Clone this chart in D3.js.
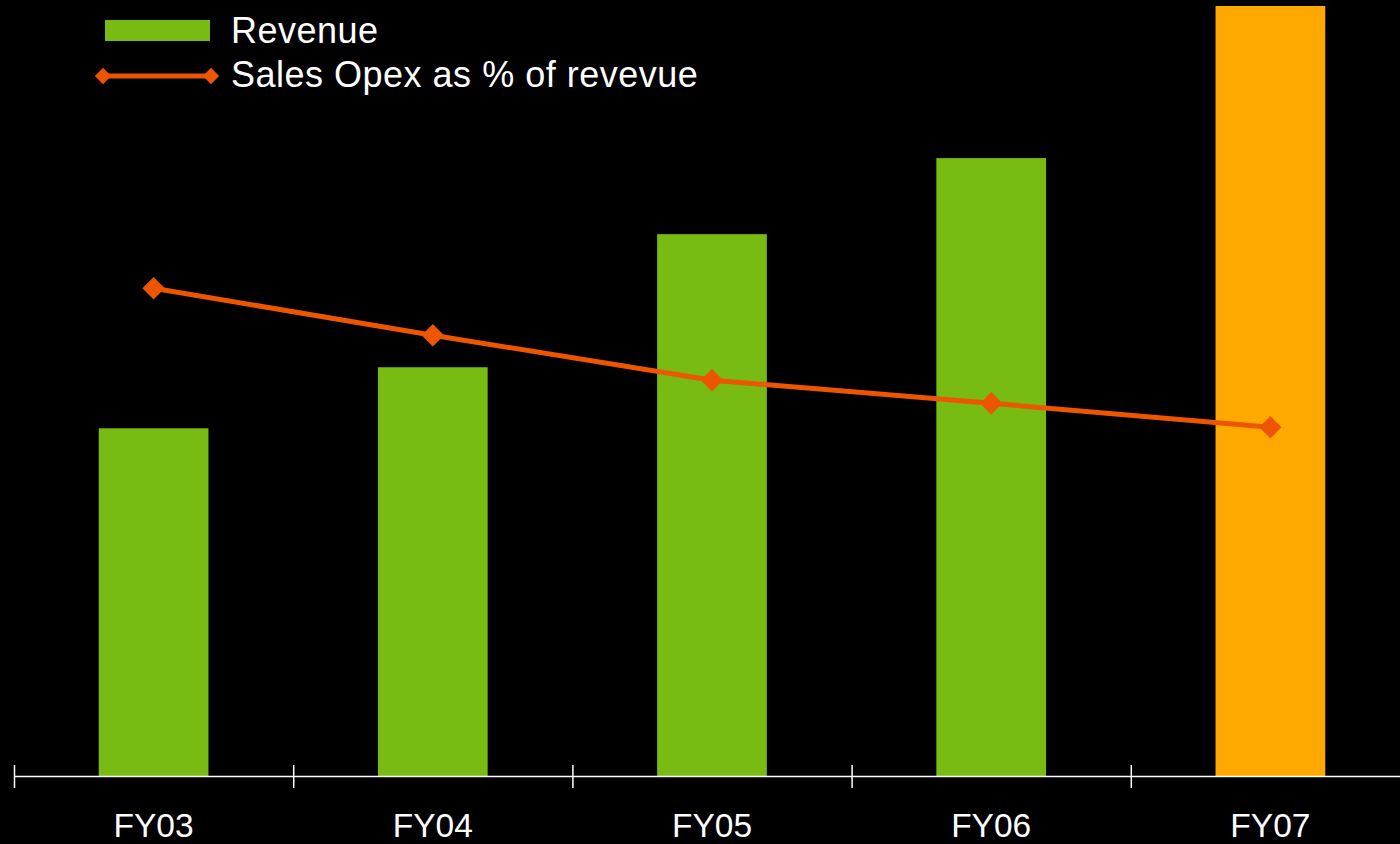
<!DOCTYPE html>
<html lang="en">
<head>
<meta charset="utf-8">
<title>Revenue and Sales Opex</title>
<script src="https://d3js.org/d3.v7.min.js"></script>
<style>
    html, body { margin: 0; padding: 0; background: #000; }
    svg { display: block; }
    text { font-family: Arial, "Liberation Sans", sans-serif; fill: #fff; }
</style>
</head>
<body>
<svg id="chart" width="1400" height="844"></svg>
<script>
    // values (revenue has no axis, so relative units)
    var years = ["FY03", "FY04", "FY05", "FY06", "FY07"];
    var revenue = [348, 409, 542, 618, 770];
    var opexPct = [24.4, 22.05, 19.8, 18.65, 17.45];
    var highlight = "FY07";

    var width = 1400, height = 844;
    var baseY = 776.5;

    var svg = d3.select("#chart");
    svg.append("rect").attr("width", width).attr("height", height).attr("fill", "#000");

    var x = d3.scaleBand()
        .domain(years)
        .range([14, 1410])
        .paddingInner(0.607)
        .paddingOuter(0.3035);

    var yRev = d3.scaleLinear().domain([0, 770]).range([baseY, 6]);
    var yPct = d3.scaleLinear().domain([0, 38.5]).range([baseY, 6]);

    var cx = function (d) { return x(d) + x.bandwidth() / 2; };

    // bars
    svg.selectAll("rect.bar")
        .data(years)
        .enter().append("rect")
        .attr("class", "bar")
        .attr("x", d => x(d))
        .attr("width", x.bandwidth())
        .attr("y", (d, i) => yRev(revenue[i]))
        .attr("height", (d, i) => baseY - yRev(revenue[i]))
        .attr("fill", d => d === highlight ? "#FFA900" : "#78BB12");

    // x axis: line + ticks at band edges
    var step = x.step();
    var ax = svg.append("g");
    ax.append("line")
        .attr("x1", 14).attr("x2", width)
        .attr("y1", baseY).attr("y2", baseY)
        .attr("stroke", "#fff").attr("stroke-width", 1.5);
    ax.selectAll("line.tick")
        .data(years)
        .enter().append("line")
        .attr("class", "tick")
        .attr("x1", (d, i) => 14.5 + i * step)
        .attr("x2", (d, i) => 14.5 + i * step)
        .attr("y1", 765).attr("y2", 788)
        .attr("stroke", "#fff").attr("stroke-width", 1.5);
    ax.selectAll("text")
        .data(years)
        .enter().append("text")
        .attr("x", d => cx(d))
        .attr("y", 837)
        .attr("text-anchor", "middle")
        .style("font-size", "33.5px")
        .text(d => d);

    // opex line
    var lineColor = "#EE5500";
    var line = d3.line()
        .x((d, i) => cx(years[i]))
        .y(d => yPct(d));

    svg.append("path")
        .datum(opexPct)
        .attr("d", line)
        .attr("fill", "none")
        .attr("stroke", lineColor)
        .attr("stroke-width", 5);

    var diamond = d3.symbol().type(d3.symbolDiamond2).size(320);
    svg.selectAll("path.marker")
        .data(opexPct)
        .enter().append("path")
        .attr("class", "marker")
        .attr("d", diamond)
        .attr("transform", (d, i) => "translate(" + cx(years[i]) + "," + yPct(d) + ")")
        .attr("fill", lineColor);

    // legend
    var lg = svg.append("g");
    lg.append("rect")
        .attr("x", 105).attr("y", 20)
        .attr("width", 105).attr("height", 21)
        .attr("fill", "#78BB12");
    lg.append("text")
        .attr("x", 231).attr("y", 43)
        .style("font-size", "36px")
        .style("letter-spacing", "0.5px")
        .text("Revenue");

    lg.append("line")
        .attr("x1", 103).attr("x2", 211)
        .attr("y1", 76).attr("y2", 76)
        .attr("stroke", lineColor).attr("stroke-width", 5);
    lg.selectAll("path.lm")
        .data([103, 211])
        .enter().append("path")
        .attr("class", "lm")
        .attr("d", d3.symbol().type(d3.symbolDiamond2).size(170))
        .attr("transform", d => "translate(" + d + ",76)")
        .attr("fill", lineColor);
    lg.append("text")
        .attr("x", 231).attr("y", 87)
        .style("font-size", "36px")
        .style("letter-spacing", "0.5px")
        .text("Sales Opex as % of revevue");
</script>
</body>
</html>
